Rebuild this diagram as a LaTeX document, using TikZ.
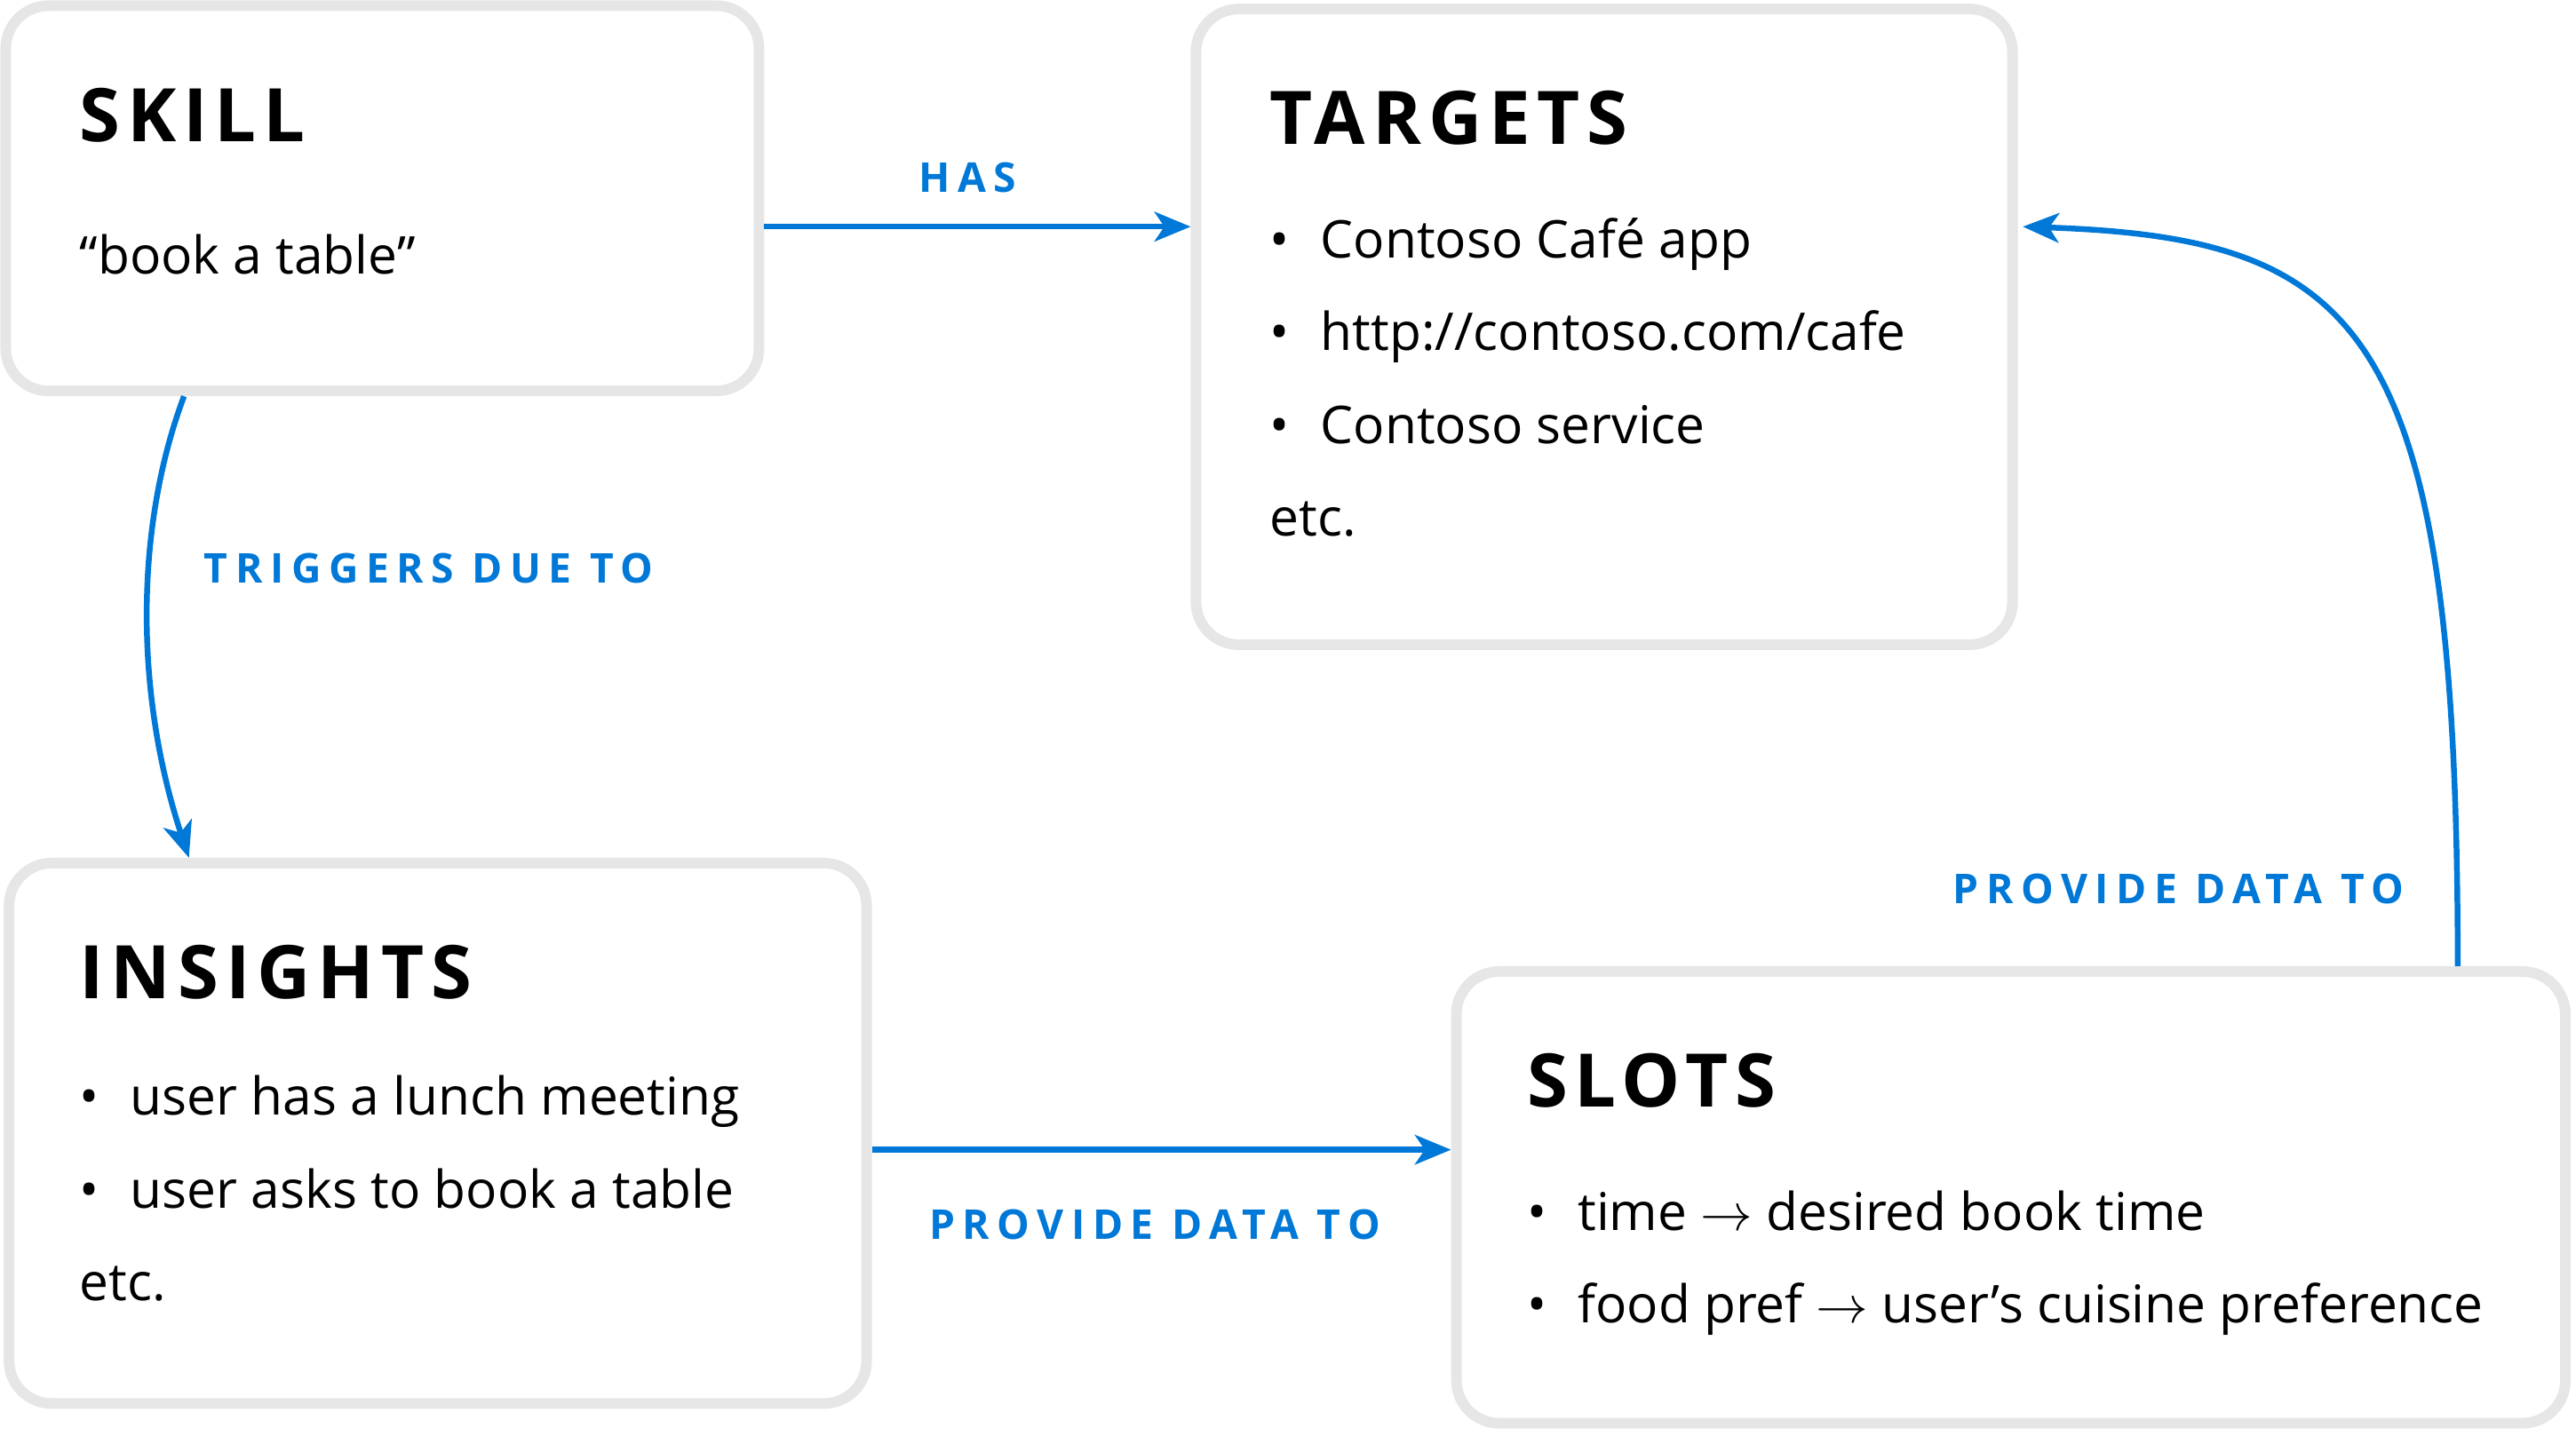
\RequirePackage{fix-cm}
\documentclass[tikz,border=0pt]{standalone}
\usepackage{fontspec}
\setmainfont{Open Sans}
\newfontfamily\headfamily[LetterSpace=9.5]{Open Sans}
\newfontfamily\tagfamily[LetterSpace=18.4]{Open Sans}
\usetikzlibrary{arrows.meta,positioning}
\definecolor{linkblue}{HTML}{0078D7}
\definecolor{boxgrey}{HTML}{E6E6E6}
\newcommand{\bul}{\makebox[31pt][l]{•}}
\newcommand{\boxtitle}[1]{{\headfamily\bfseries\fontsize{45}{45}\selectfont #1}}
\tikzset{
  infobox/.style={draw=boxgrey, line width=6.5pt, rectangle, rounded corners=26pt,
    anchor=north west, inner sep=0pt},
  boxtext/.style={align=left, inner sep=0pt, font=\fontsize{31.7}{56.5}\selectfont},
  link/.style={draw=linkblue, line width=3.5pt, -{Stealth[length=22pt,width=18pt,inset=6pt]}},
  linklabel/.style={text=linkblue, inner sep=0pt, font=\tagfamily\bfseries\fontsize{25}{25}\selectfont}
}

\begin{document}
\begin{tikzpicture}[x=1pt,y=-1pt]
\useasboundingbox (0,0) rectangle (1568,874);
% the four boxes
\node[infobox, minimum width=458.5pt, minimum height=234.5pt] (skill) at (0.25,0.25) {};
\node[infobox, minimum width=497pt, minimum height=387pt] (targets) at (724.75,2.25) {};
\node[infobox, minimum width=522pt, minimum height=329pt] (insights) at (2.25,522.25) {};
\node[infobox, minimum width=675pt, minimum height=275pt] (slots) at (883.25,588.25) {};

% their contents
\node[boxtext, below right=53pt and 48pt of skill.north west] (skilltext) {%
  \boxtitle{SKILL}\\[24.5pt]
  “book a table”};
\node[boxtext, below right=53pt and 48pt of targets.north west] (targetstext) {%
  \boxtitle{TARGETS}\\[12.5pt]
  \bul Contoso Café app\\
  \bul http://contoso.com/cafe\\
  \bul Contoso service\\
  etc.};
\node[boxtext, below right=53pt and 46pt of insights.north west] (insightstext) {%
  \boxtitle{INSIGHTS}\\[14.5pt]
  \bul user has a lunch meeting\\
  \bul user asks to book a table\\
  etc.};
\node[boxtext, below right=53pt and 46pt of slots.north west] (slotstext) {%
  \boxtitle{SLOTS}\\[18.5pt]
  \bul time $\rightarrow$ desired book time\\
  \bul food pref $\rightarrow$ user’s cuisine preference};

% connectors
\draw[link] ([yshift=-17.25pt]skill.east) -- ([yshift=-17.25pt]skill.east -| targets.west)
  node[midway, above=19pt, xshift=-6pt, linklabel] (has) {HAS};
\draw[link] ([xshift=-120.75pt]skill.south) .. controls +(-30,80) and +(-33,-100) .. ([xshift=-151.5pt]insights.north)
  node[pos=0.4, right=32pt, linklabel] (triggers) {TRIGGERS DUE TO};
\draw[link] ([yshift=-10pt]insights.east) -- ([yshift=-10pt]insights.east -| slots.west)
  node[midway, below=34.5pt, xshift=-4pt, linklabel] (provide1) {PROVIDE DATA TO};
\draw[link] ([xshift=272pt]slots.north) .. controls +(0,-388) and +(208,7) .. ([xshift=3pt,yshift=61pt]targets.east)
  node[pos=0, anchor=east, xshift=-31pt, yshift=47pt, linklabel] (provide2) {PROVIDE DATA TO};
\end{tikzpicture}
\end{document}
